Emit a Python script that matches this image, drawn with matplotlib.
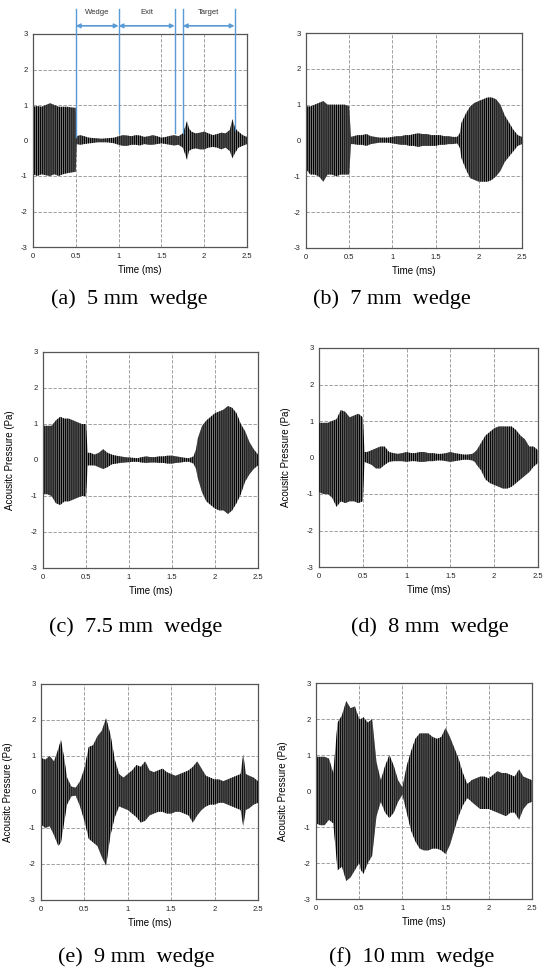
import matplotlib
matplotlib.use('Agg')
import matplotlib.pyplot as plt

# ---------------- data (envelopes, Pa vs ms) ----------------
t_a = [0, 0.05, 0.1, 0.15, 0.2, 0.25, 0.3, 0.35, 0.4, 0.45, 0.5, 0.51, 0.55, 0.6, 0.65,
       0.7, 0.75, 0.8, 0.85, 0.9, 0.95, 1.0, 1.05, 1.1, 1.15, 1.2, 1.25, 1.3, 1.35, 1.4,
       1.45, 1.5, 1.55, 1.6, 1.65, 1.7, 1.75, 1.78, 1.8, 1.82, 1.85, 1.9, 1.95, 2.0, 2.05,
       2.1, 2.15, 2.2, 2.25, 2.3, 2.33, 2.36, 2.4, 2.45, 2.5]
up_a = [0.95, 0.97, 0.95, 1.0, 1.05, 1.0, 0.95, 0.95, 0.95, 0.93, 0.92, 0.12, 0.15, 0.12, 0.08,
        0.07, 0.06, 0.05, 0.06, 0.07, 0.08, 0.12, 0.15, 0.14, 0.12, 0.15, 0.14, 0.1, 0.12, 0.15,
        0.12, 0.08, 0.1, 0.13, 0.15, 0.12, 0.2, 0.4, 0.55, 0.35, 0.25, 0.2, 0.22, 0.25, 0.2,
        0.15, 0.18, 0.22, 0.2, 0.3, 0.6, 0.35, 0.25, 0.15, 0.1]
lo_a = [-0.95, -1.0, -0.95, -0.98, -1.0, -0.95, -1.0, -0.95, -0.92, -0.9, -0.88, -0.1, -0.12, -0.1, -0.08,
        -0.07, -0.05, -0.05, -0.05, -0.06, -0.08, -0.12, -0.15, -0.15, -0.12, -0.12, -0.14, -0.1, -0.12, -0.12,
        -0.1, -0.08, -0.1, -0.12, -0.14, -0.12, -0.2, -0.4, -0.55, -0.3, -0.25, -0.22, -0.25, -0.25, -0.2,
        -0.18, -0.2, -0.25, -0.2, -0.3, -0.5, -0.35, -0.2, -0.15, -0.1]

t_std = [0, 0.05, 0.1, 0.15, 0.2, 0.25, 0.3, 0.35, 0.4, 0.45, 0.5, 0.52, 0.55, 0.6, 0.65,
         0.7, 0.75, 0.8, 0.85, 0.9, 0.95, 1.0, 1.05, 1.1, 1.15, 1.2, 1.25, 1.3, 1.35, 1.4,
         1.45, 1.5, 1.55, 1.6, 1.65, 1.7, 1.75, 1.78, 1.8, 1.85, 1.9, 1.95, 2.0, 2.05, 2.1,
         2.15, 2.2, 2.25, 2.3, 2.35, 2.4, 2.45, 2.5]

up_b = [0.95, 0.95, 1.0, 1.05, 1.1, 1.0, 1.0, 1.0, 1.0, 1.0, 0.95, 0.1, 0.12, 0.15, 0.15,
        0.18, 0.12, 0.1, 0.08, 0.08, 0.08, 0.1, 0.12, 0.12, 0.15, 0.15, 0.18, 0.2, 0.18, 0.18,
        0.15, 0.15, 0.15, 0.12, 0.12, 0.1, 0.1, 0.2, 0.5, 0.75, 0.95, 1.05, 1.1, 1.15, 1.2,
        1.2, 1.15, 1.0, 0.7, 0.5, 0.3, 0.15, 0.1]
lo_b = [-0.8, -0.95, -0.95, -1.0, -1.15, -0.95, -0.95, -1.0, -0.95, -0.95, -0.95, -0.1, -0.1, -0.12, -0.12,
        -0.15, -0.1, -0.08, -0.06, -0.06, -0.06, -0.08, -0.1, -0.12, -0.12, -0.15, -0.15, -0.18, -0.15, -0.15,
        -0.15, -0.15, -0.12, -0.12, -0.1, -0.1, -0.08, -0.2, -0.5, -0.8, -1.05, -1.1, -1.15, -1.15, -1.15,
        -1.1, -1.0, -0.85, -0.6, -0.45, -0.3, -0.15, -0.1]

up_c = [0.95, 0.95, 0.95, 1.1, 1.2, 1.15, 1.15, 1.1, 1.05, 1.0, 1.0, 0.2, 0.2, 0.15, 0.2,
        0.3, 0.2, 0.15, 0.12, 0.1, 0.08, 0.07, 0.06, 0.05, 0.08, 0.1, 0.08, 0.08, 0.1, 0.1,
        0.12, 0.12, 0.1, 0.08, 0.06, 0.05, 0.1, 0.3, 0.6, 0.95, 1.1, 1.2, 1.3, 1.35, 1.4,
        1.5, 1.45, 1.3, 1.0, 0.8, 0.5, 0.3, 0.15]
lo_c = [-0.95, -0.95, -1.0, -1.2, -1.25, -1.15, -1.15, -1.1, -1.05, -1.0, -1.0, -0.15, -0.15, -0.15, -0.2,
        -0.25, -0.2, -0.12, -0.1, -0.08, -0.07, -0.06, -0.05, -0.05, -0.07, -0.08, -0.07, -0.07, -0.08, -0.08,
        -0.1, -0.1, -0.08, -0.07, -0.05, -0.05, -0.1, -0.25, -0.5, -0.9, -1.15, -1.25, -1.35, -1.4, -1.4,
        -1.5, -1.4, -1.2, -0.95, -0.6, -0.4, -0.25, -0.15]

up_d = [0.95, 0.95, 0.95, 1.0, 1.05, 1.3, 1.25, 1.1, 1.15, 1.2, 1.1, 0.15, 0.15, 0.2, 0.25,
        0.3, 0.3, 0.15, 0.12, 0.1, 0.12, 0.15, 0.12, 0.12, 0.15, 0.15, 0.12, 0.12, 0.1, 0.1,
        0.12, 0.15, 0.12, 0.1, 0.08, 0.08, 0.1, 0.15, 0.2, 0.4, 0.6, 0.7, 0.8, 0.85, 0.85,
        0.85, 0.85, 0.75, 0.6, 0.5, 0.3, 0.3, 0.2]
lo_d = [-0.95, -1.0, -1.0, -1.1, -1.35, -1.2, -1.25, -1.2, -1.2, -1.25, -1.2, -0.12, -0.15, -0.2, -0.3,
        -0.3, -0.2, -0.12, -0.1, -0.1, -0.1, -0.12, -0.1, -0.1, -0.12, -0.12, -0.1, -0.1, -0.08, -0.08,
        -0.1, -0.12, -0.1, -0.08, -0.06, -0.06, -0.08, -0.12, -0.2, -0.35, -0.6, -0.7, -0.75, -0.8, -0.85,
        -0.85, -0.8, -0.7, -0.6, -0.5, -0.4, -0.25, -0.15]

t_e = [0, 0.05, 0.1, 0.15, 0.2, 0.23, 0.27, 0.3, 0.35, 0.4, 0.45, 0.5, 0.55, 0.6, 0.65,
       0.7, 0.75, 0.8, 0.85, 0.9, 0.95, 1.0, 1.05, 1.1, 1.15, 1.2, 1.25, 1.3, 1.35, 1.4,
       1.45, 1.5, 1.55, 1.6, 1.65, 1.7, 1.75, 1.8, 1.85, 1.9, 1.95, 2.0, 2.05, 2.1, 2.15,
       2.2, 2.25, 2.3, 2.33, 2.36, 2.4, 2.45, 2.5]
up_e = [0.95, 0.9, 1.0, 0.85, 1.2, 1.45, 0.9, 0.4, 0.15, 0.12, 0.3, 0.65, 1.25, 1.3, 1.55,
        1.7, 2.05, 1.6, 0.9, 0.5, 0.4, 0.5, 0.6, 0.75, 0.7, 0.85, 0.6, 0.55, 0.6, 0.65,
        0.55, 0.5, 0.45, 0.5, 0.55, 0.6, 0.7, 0.85, 0.65, 0.45, 0.4, 0.35, 0.35, 0.3, 0.35,
        0.4, 0.45, 0.5, 1.05, 0.5, 0.45, 0.4, 0.3]
lo_e = [-0.9, -1.0, -0.95, -1.2, -1.5, -1.4, -0.8, -0.35, -0.12, -0.1, -0.4, -0.8, -1.3, -1.4, -1.5,
        -1.8, -2.05, -1.2, -0.7, -0.4, -0.45, -0.5, -0.6, -0.7, -0.85, -0.8, -0.65, -0.6, -0.55, -0.55,
        -0.6, -0.6, -0.55, -0.55, -0.6, -0.65, -0.85, -0.65, -0.5, -0.4, -0.35, -0.35, -0.3, -0.3, -0.35,
        -0.4, -0.45, -0.5, -0.95, -0.5, -0.45, -0.35, -0.3]

up_f = [0.95, 0.95, 0.95, 0.9, 0.5, 1.9, 2.1, 2.5, 2.3, 2.35, 2.0, 2.0, 2.05, 1.9, 2.0,
        0.8, 0.3, 0.7, 1.0, 0.7, 0.3, 0.1, 0.7, 1.1, 1.45, 1.6, 1.6, 1.6, 1.5, 1.45,
        1.5, 1.75, 1.5, 1.2, 0.9, 0.5, 0.2, 0.25, 0.3, 0.35, 0.4, 0.4, 0.35, 0.45, 0.55,
        0.5, 0.5, 0.45, 0.4, 0.6, 0.4, 0.35, 0.3]
lo_f = [-0.9, -0.95, -0.95, -0.8, -0.9, -2.2, -2.1, -2.5, -2.4, -2.2, -2.0, -2.2, -2.3, -2.0, -1.8,
        -0.7, -0.3, -0.6, -0.75, -0.6, -0.3, -0.1, -0.6, -1.1, -1.4, -1.6, -1.65, -1.65, -1.6, -1.6,
        -1.65, -1.75, -1.5, -1.1, -0.7, -0.4, -0.2, -0.25, -0.3, -0.4, -0.5, -0.5, -0.5, -0.55, -0.6,
        -0.65, -0.7, -0.6, -0.6, -0.8, -0.5, -0.35, -0.3]

captions = ['(a)  5 mm  wedge', '(b)  7 mm  wedge', '(c)  7.5 mm  wedge',
            '(d)  8 mm  wedge', '(e)  9 mm  wedge', '(f)  10 mm  wedge']
x_ticks = [0, 0.5, 1, 1.5, 2, 2.5]
x_tick_labels = ['0', '0.5', '1', '1.5', '2', '2.5']
y_ticks = [-3, -2, -1, 0, 1, 2, 3]
y_tick_labels = ['-3', '-2', '-1', '0', '1', '2', '3']

# annotation of panel (a)
marker_t = [0.5, 1.0, 1.656, 1.75, 2.355]
marker_bottom = [0.1, 0.2, 0.2, 0.2, 0.3]
zones = ['Wedge', 'Exit', 'Target']
zone_start = [0.5, 1.0, 1.75]
zone_end = [1.0, 1.656, 2.355]

# ---------------- drawing ----------------
W, H = 550, 974
plt.rcParams['font.family'] = ['Liberation Sans', 'DejaVu Sans']
plt.rcParams['hatch.linewidth'] = 0.8
fig = plt.figure(figsize=(W / 100, H / 100), dpi=100)


def add_ax(x0, y0, x1, y1):
    return fig.add_axes([x0 / W, 1 - y1 / H, (x1 - x0) / W, (y1 - y0) / H])


boxes = [(33, 34, 247, 247), (306, 33, 522, 248),
         (43, 352, 258, 568), (319, 348, 538, 567),
         (41, 684, 258, 900), (316, 683, 532, 899)]
series = [(t_a, up_a, lo_a), (t_std, up_b, lo_b), (t_std, up_c, lo_c),
          (t_std, up_d, lo_d), (t_e, up_e, lo_e), (t_std, up_f, lo_f)]
cap_pos = [(129, 299), (392, 299), (136, 627), (430, 627), (136, 957), (412, 957)]

axes = []
for i, (box, (t, up, lo)) in enumerate(zip(boxes, series)):
    ax = add_ax(*box)
    axes.append(ax)
    ax.set_xlim(0, 2.5)
    ax.set_ylim(-3, 3)
    ax.set_xticks(x_ticks)
    ax.set_xticklabels(x_tick_labels)
    ax.set_yticks(y_ticks)
    ax.set_yticklabels(y_tick_labels)
    ax.tick_params(length=0, labelsize=5.5, pad=4, colors='#222222')
    ax.set_axisbelow(True)
    ax.grid(True, ls=(0, (4, 2)), color='#8f8f8f', lw=0.6)
    for s in ax.spines.values():
        s.set_color('#555555')
        s.set_linewidth(0.9)
    ax.fill_between(t, lo, up, facecolor='#7d7d7d', edgecolor='black',
                    hatch='||||||||', linewidth=0, zorder=3)
    ax.set_xlabel('Time (ms)', fontsize=7, labelpad=4)
    if i >= 2:
        ax.set_ylabel('Acousitc Pressure (Pa)', fontsize=7)
        ax.yaxis.set_label_coords(-0.13, 0.5)
    fig.text(cap_pos[i][0] / W, 1 - cap_pos[i][1] / H, captions[i],
             ha='center', va='center', fontsize=16,
             family=['Liberation Serif', 'DejaVu Serif'])

# annotation of panel (a)
axa = axes[0]
blue = '#5b9bd5'
for xm, yb in zip(marker_t, marker_bottom):
    axa.plot([xm, xm], [yb, 3.70], color=blue, lw=1.0, clip_on=False, zorder=5)
for name, xs, xe in zip(zones, zone_start, zone_end):
    axa.annotate('', xy=(xe, 3.23), xytext=(xs, 3.23),
                 arrowprops=dict(arrowstyle='<|-|>', color=blue, lw=1.2,
                                 mutation_scale=6, shrinkA=0, shrinkB=0),
                 annotation_clip=False)
    axa.text((xs + xe) / 2, 3.6, name, ha='center', va='center',
             fontsize=5.5, color='#333333', clip_on=False)

fig.savefig('out.png', dpi=100)
